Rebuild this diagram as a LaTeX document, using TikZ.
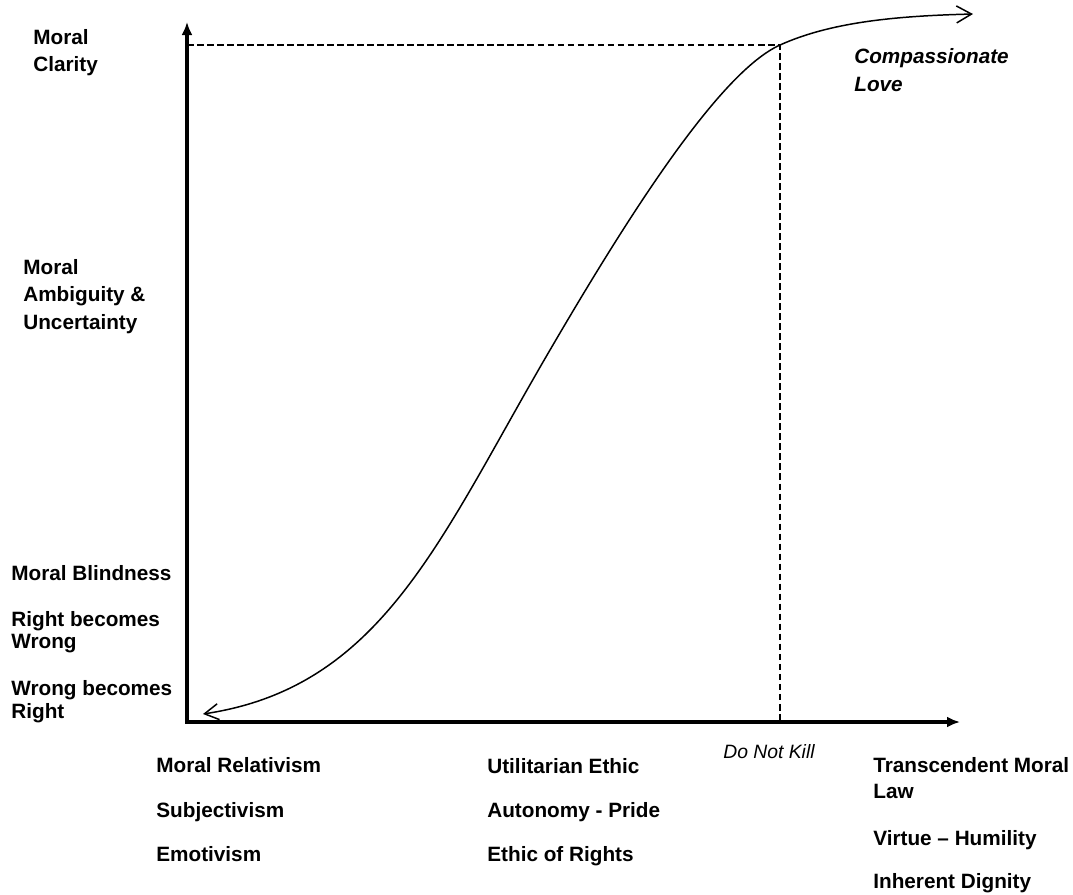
\documentclass[tikz,border=0pt]{standalone}
\usepackage{fontspec}
\setmainfont{Liberation Sans}
\usetikzlibrary{arrows.meta}

\begin{document}
\begin{tikzpicture}[
	x=0.02cm, y=-0.02cm,
	axis/.style={line width=1.8pt,{Latex[length=0.26cm,width=0.22cm]}-{Latex[length=0.26cm,width=0.22cm]}},
	guide/.style={line width=1pt,dash pattern=on 3.8pt off 1.9pt},
	growth/.style={line width=0.85pt,{Straight Barb[length=0.28cm,width=0.32cm]}-{Straight Barb[length=0.3cm,width=0.34cm]}},
	lbl/.style={anchor=north west,inner sep=0,align=left,font=\bfseries\fontsize{11.8}{#1}\selectfont},
	lbl/.default=15.6
	]
	\useasboundingbox (0,0) rectangle (1073,894);
	% axes
	\coordinate (origin) at (187,722);
	\coordinate (ytop) at (187,22);
	\coordinate (xend) at (960,722);
	\draw[axis] (ytop) -- (origin) -- (xend);
	% the curve
	\coordinate (lowend) at (203,714);
	\coordinate (bend) at (550,350);
	\coordinate (kill) at (780,45);
	\coordinate (highend) at (973,14);
	\draw[guide] (origin |- kill) -- (kill) -- (kill |- origin);
	\draw[growth] (lowend) .. controls (383,687) and (440,538) .. (bend)
		.. controls (630,213) and (720,72) .. (kill)
		.. controls (830,22.5) and (893,16) .. (highend);
	% vertical axis labels
	\node[lbl] (clarity) at (33,29) {Moral\\Clarity};
	\node[lbl] (ambiguity) at (23,259) {Moral\\Ambiguity \&\\Uncertainty};
	\node[lbl] (blindness) at (11,565) {Moral Blindness};
	\node[lbl=12.5] (rightwrong) at (11,611) {Right becomes\\Wrong};
	\node[lbl=13] (wrongright) at (11,680) {Wrong becomes\\Right};
	\node[lbl=15.9,font=\bfseries\itshape\fontsize{11.8}{15.9}\selectfont] (love) at (854,48) {Compassionate\\Love};
	% horizontal axis labels
	\node[lbl] (relativism) at (156,757) {Moral Relativism};
	\node[lbl] (subjectivism) at (156,802) {Subjectivism};
	\node[lbl] (emotivism) at (156,846) {Emotivism};
	\node[lbl] (utilitarian) at (487,758) {Utilitarian Ethic};
	\node[lbl] (autonomy) at (487,802) {Autonomy - Pride};
	\node[lbl] (rights) at (487,846) {Ethic of Rights};
	\node[anchor=north west,inner sep=0,font=\itshape\fontsize{11}{13}\selectfont] (dnk) at (723,744) {Do Not Kill};
	\node[lbl=14.8] (transcendent) at (873,757) {Transcendent Moral\\Law};
	\node[lbl] (virtue) at (873,830) {Virtue -- Humility};
	\node[lbl] (dignity) at (873,873) {Inherent Dignity};
\end{tikzpicture}
\end{document}
